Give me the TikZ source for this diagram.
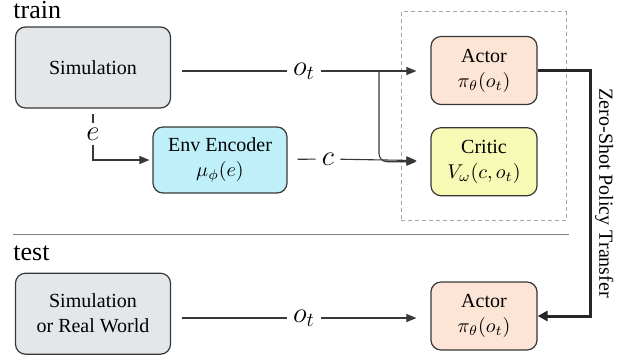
\documentclass[tikz,border=0pt]{standalone}
\usepackage{fontspec}
\setmainfont{Liberation Serif}
\usepackage{tikz}
\usetikzlibrary{arrows.meta,positioning,fit}
\definecolor{simgray}{RGB}{227,231,234}
\definecolor{enccyan}{RGB}{191,240,250}
\definecolor{actpeach}{RGB}{252,229,213}
\definecolor{crityellow}{RGB}{246,250,180}
\definecolor{edgegray}{RGB}{55,55,55}
\tikzset{
  box/.style={draw=edgegray, rounded corners=5pt, line width=0.6pt,
    align=center, inner sep=0pt, font=\fontsize{10}{12.5}\selectfont},
  simbox/.style={box, fill=simgray, minimum width=77.5pt, minimum height=40.5pt},
  encbox/.style={box, fill=enccyan, minimum width=67pt, minimum height=33pt},
  actbox/.style={box, fill=actpeach, minimum width=53pt, minimum height=34pt},
  critbox/.style={box, fill=crityellow, minimum width=53pt, minimum height=34pt},
  mlbl/.style={inner xsep=3pt, inner ysep=1pt, font=\fontsize{14.5}{16}\selectfont},
  hdr/.style={inner sep=0pt, anchor=north west, font=\fontsize{13}{15}\selectfont},
  plain/.style={line width=0.55pt, draw=edgegray},
  arrw/.style={plain, -{Triangle[length=5pt, width=4pt]}},
  xferarrw/.style={line width=1.5pt, draw=black!85, -{Triangle[length=5pt, width=5pt]}},
  frame/.style={draw=gray!70, dash pattern=on 2pt off 1.5pt, line width=0.5pt},
}
\begin{document}
\begin{tikzpicture}[x=0.5pt, y=-0.5pt]
  \useasboundingbox (0,0) rectangle (627,361);

  % train
  \node[hdr] (train) at (13,1) {train};
  \node[simbox] (sim) at (93,67.5) {Simulation};
  \node[encbox] (enc) at (220,160) {Env Encoder\\$\mu_\phi(e)$};
  \node[actbox] (actor) at (484,70.5) {Actor\\$\pi_\theta(o_t)$};
  \node[critbox, below=11pt of actor] (critic) {Critic\\$V_\omega(c,o_t)$};
  \node[frame, fit=(actor)(critic), inner xsep=14.5pt, inner ysep=12pt] (grp) {};

  % labels on the connectors
  \node[mlbl] (ot) at (304,71) {$o_t$};
  \node[mlbl, inner xsep=0pt, inner ysep=2pt] (e) at (93,134) {$e$};
  \node[mlbl] (c) at (328,159) {$c$};
  \coordinate (split) at (379,71);

  \draw[plain, shorten <=5.5pt] (sim.east |- ot) -- (ot);
  \draw[arrw, shorten >=7pt] (ot) -- (actor.west |- ot);
  \draw[arrw, rounded corners=4pt, shorten >=7pt] (split) |- (critic.west);
  \draw[plain, shorten <=2.5pt] (sim) -- (e);
  \draw[arrw, shorten >=1.5pt] (e) |- (enc);
  \draw[plain, shorten <=5pt] (enc) -- (c);
  \draw[arrw, shorten >=7pt] (c) -- (critic);

  % separator
  \draw[line width=0.5pt, draw=gray] (13,234) -- (569,234);

  % test
  \node[hdr] (test) at (13,245) {test};
  \node[simbox, below=82pt of sim] (tsim) {Simulation\\or Real World};
  \node[actbox] (tactor) at (484,316) {Actor\\$\pi_\theta(o_t)$};
  \node[mlbl] (tot) at (304,318) {$o_t$};

  \draw[plain, shorten <=5.5pt] (tsim.east |- tot) -- (tot);
  \draw[arrw, shorten >=7pt] (tot) -- (tactor.west |- tot);

  % transfer
  \draw[xferarrw] (actor.east) -- ++(53,0) |-
    node[pos=0.25, rotate=-90, anchor=south, inner sep=1.5pt,
         font=\fontsize{10}{12}\selectfont] {Zero-Shot Policy Transfer}
    (tactor.east);
\end{tikzpicture}
\end{document}
